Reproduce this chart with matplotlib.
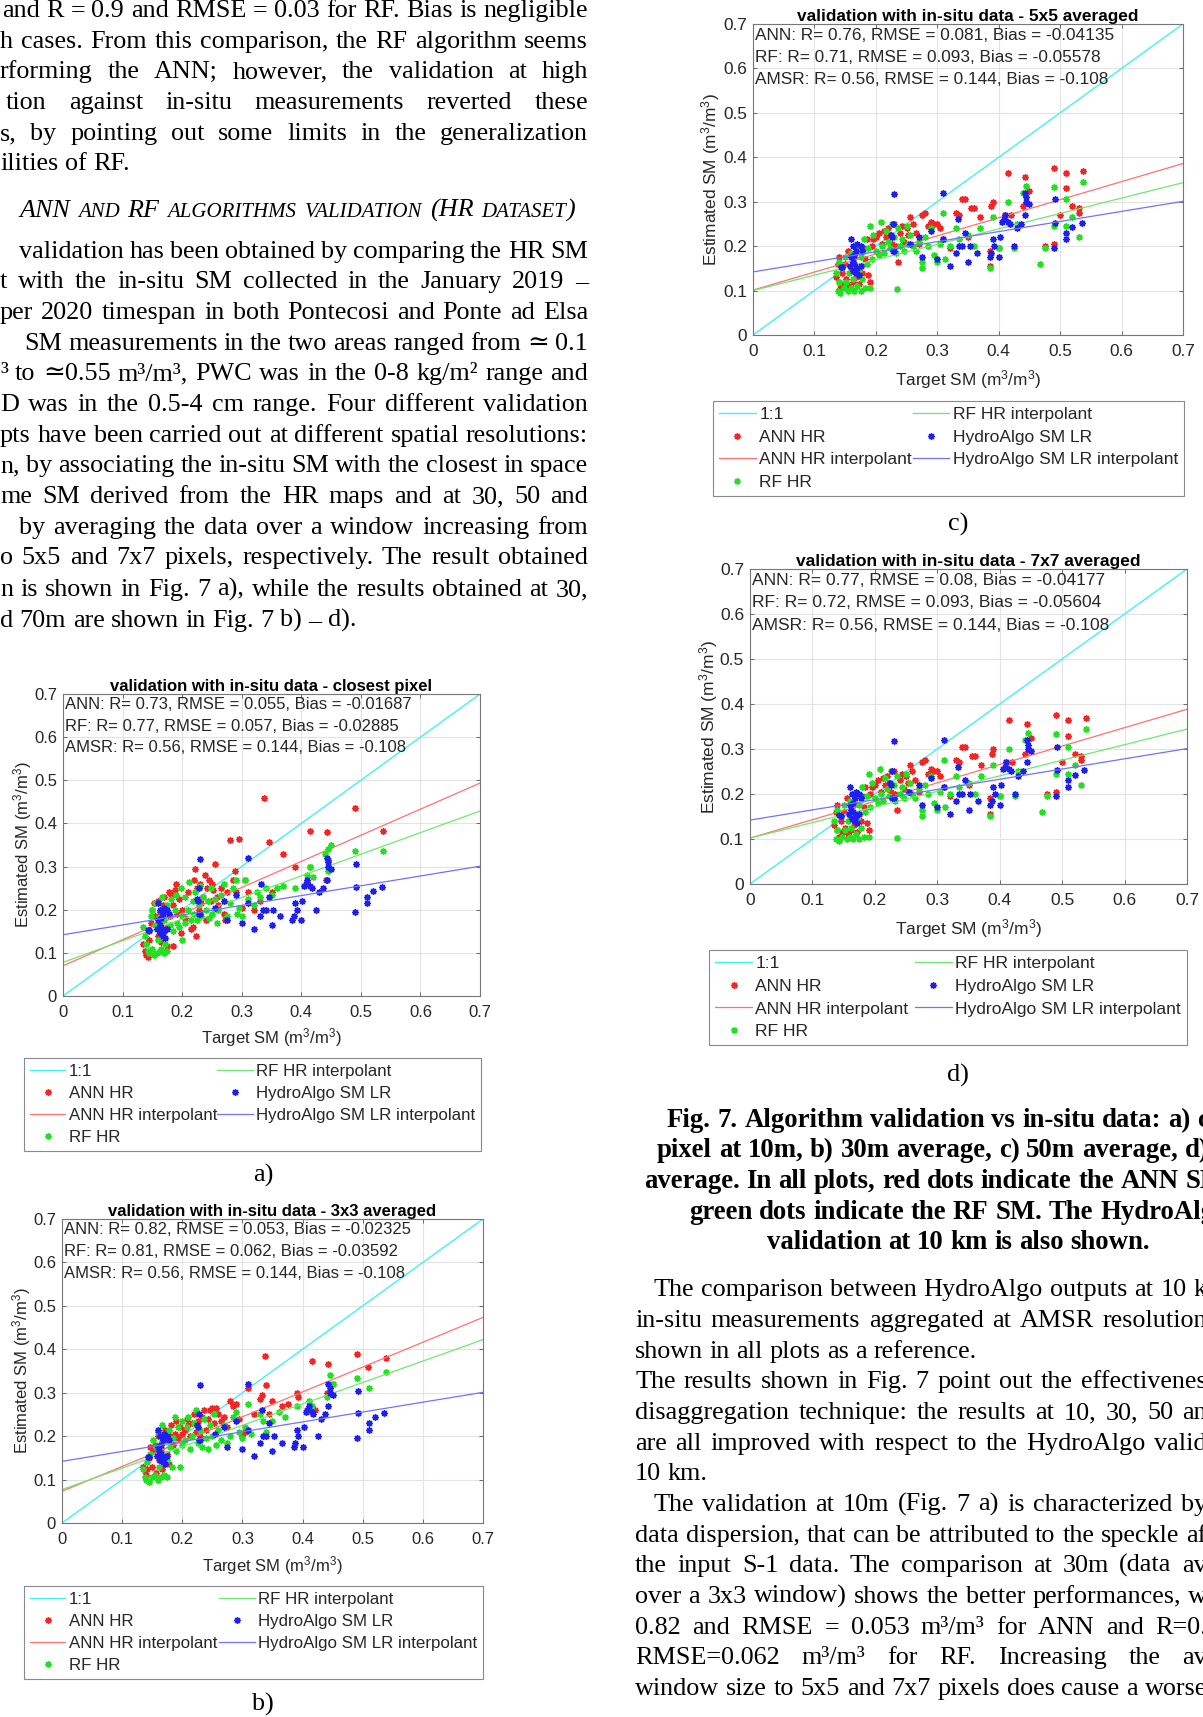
import numpy as np
import matplotlib
matplotlib.use('Agg')
from matplotlib import pyplot as plt

W, H = 1203, 1717

plt.rcParams['font.family'] = ['Liberation Sans', 'DejaVu Sans']
plt.rcParams['mathtext.fontset'] = 'custom'
plt.rcParams['mathtext.rm'] = 'Liberation Sans'
plt.rcParams['mathtext.it'] = 'Liberation Sans:italic'
plt.rcParams['mathtext.bf'] = 'Liberation Sans:bold'

SERIF = ['Liberation Serif', 'DejaVu Serif']

# ---------------------------------------------------------------- data
# HydroAlgo 10 km SM vs in-situ (same in every panel)
hydro_pts = [(0.143, 0.153), (0.145, 0.152), (0.158, 0.155), (0.160, 0.215), (0.162, 0.165),
             (0.163, 0.200), (0.165, 0.180), (0.165, 0.160), (0.168, 0.140), (0.170, 0.150),
             (0.172, 0.135), (0.175, 0.200), (0.178, 0.190), (0.160, 0.175), (0.163, 0.145),
             (0.170, 0.205), (0.175, 0.155), (0.168, 0.190), (0.225, 0.225), (0.226, 0.220),
             (0.228, 0.250), (0.228, 0.190), (0.230, 0.317), (0.230, 0.190), (0.255, 0.205),
             (0.270, 0.220), (0.275, 0.175), (0.290, 0.235), (0.300, 0.170), (0.310, 0.320),
             (0.310, 0.215), (0.320, 0.155), (0.330, 0.185), (0.333, 0.260), (0.335, 0.200),
             (0.340, 0.200), (0.345, 0.230), (0.350, 0.165), (0.353, 0.200), (0.365, 0.185),
             (0.385, 0.175), (0.388, 0.185), (0.390, 0.215), (0.392, 0.200), (0.400, 0.175),
             (0.402, 0.220), (0.405, 0.255), (0.408, 0.260), (0.410, 0.270), (0.415, 0.255),
             (0.418, 0.250), (0.425, 0.200), (0.430, 0.240), (0.437, 0.250), (0.443, 0.270),
             (0.445, 0.300), (0.445, 0.310), (0.443, 0.320), (0.450, 0.295), (0.490, 0.195),
             (0.492, 0.253), (0.492, 0.305), (0.510, 0.215), (0.510, 0.230), (0.520, 0.243),
             (0.535, 0.253)]

# closest pixel (10 m)
ann_a = [(0.135, 0.12), (0.138, 0.105), (0.14, 0.095), (0.142, 0.09), (0.145, 0.13), (0.145, 0.15),
         (0.148, 0.17), (0.15, 0.2), (0.152, 0.215), (0.155, 0.185), (0.157, 0.16), (0.16, 0.14),
         (0.16, 0.22), (0.162, 0.195), (0.165, 0.125), (0.165, 0.175), (0.168, 0.21), (0.17, 0.23),
         (0.172, 0.2), (0.175, 0.115), (0.175, 0.16), (0.178, 0.24), (0.18, 0.185), (0.182, 0.235),
         (0.185, 0.115), (0.185, 0.21), (0.188, 0.245), (0.19, 0.26), (0.192, 0.19), (0.195, 0.225),
         (0.198, 0.145), (0.2, 0.2), (0.205, 0.18), (0.21, 0.24), (0.215, 0.155), (0.218, 0.16),
         (0.22, 0.27), (0.222, 0.295), (0.223, 0.14), (0.225, 0.25), (0.228, 0.2), (0.23, 0.26),
         (0.232, 0.215), (0.235, 0.23), (0.238, 0.28), (0.24, 0.175), (0.242, 0.25), (0.245, 0.27),
         (0.248, 0.22), (0.25, 0.26), (0.252, 0.245), (0.255, 0.305), (0.258, 0.23), (0.26, 0.21),
         (0.265, 0.25), (0.27, 0.19), (0.272, 0.175), (0.275, 0.24), (0.28, 0.362), (0.285, 0.27),
         (0.288, 0.29), (0.29, 0.24), (0.295, 0.365), (0.3, 0.205), (0.305, 0.27), (0.31, 0.24),
         (0.32, 0.2), (0.33, 0.22), (0.337, 0.458), (0.345, 0.358), (0.35, 0.24), (0.37, 0.33),
         (0.39, 0.3), (0.41, 0.265), (0.415, 0.3), (0.415, 0.383), (0.443, 0.38), (0.442, 0.27),
         (0.445, 0.315), (0.49, 0.436), (0.538, 0.383)]
rf_a = [(0.135, 0.16), (0.138, 0.14), (0.14, 0.12), (0.142, 0.105), (0.145, 0.1), (0.148, 0.185),
        (0.15, 0.11), (0.15, 0.2), (0.152, 0.095), (0.155, 0.165), (0.155, 0.215), (0.158, 0.1),
        (0.16, 0.13), (0.16, 0.18), (0.162, 0.105), (0.165, 0.11), (0.165, 0.2), (0.167, 0.23),
        (0.168, 0.155), (0.17, 0.1), (0.17, 0.175), (0.172, 0.12), (0.175, 0.105), (0.175, 0.21),
        (0.178, 0.19), (0.18, 0.165), (0.182, 0.225), (0.185, 0.15), (0.188, 0.2), (0.19, 0.235),
        (0.192, 0.17), (0.195, 0.16), (0.198, 0.25), (0.2, 0.13), (0.2, 0.185), (0.205, 0.17),
        (0.205, 0.23), (0.21, 0.2), (0.212, 0.265), (0.215, 0.175), (0.218, 0.22), (0.22, 0.19),
        (0.222, 0.24), (0.225, 0.175), (0.228, 0.21), (0.23, 0.255), (0.232, 0.185), (0.235, 0.23),
        (0.24, 0.2), (0.243, 0.22), (0.245, 0.18), (0.248, 0.25), (0.25, 0.19), (0.255, 0.225),
        (0.258, 0.17), (0.26, 0.2), (0.265, 0.235), (0.27, 0.26), (0.275, 0.185), (0.28, 0.215),
        (0.285, 0.25), (0.29, 0.27), (0.292, 0.19), (0.295, 0.205), (0.3, 0.185), (0.305, 0.27),
        (0.31, 0.225), (0.32, 0.21), (0.325, 0.24), (0.33, 0.23), (0.34, 0.25), (0.35, 0.235),
        (0.36, 0.25), (0.37, 0.255), (0.39, 0.25), (0.41, 0.28), (0.415, 0.3), (0.42, 0.275),
        (0.44, 0.33), (0.445, 0.34), (0.45, 0.35), (0.445, 0.29), (0.49, 0.335), (0.538, 0.335)]

# 3x3 average (30 m)
ann_b = [(0.135, 0.13), (0.138, 0.12), (0.14, 0.11), (0.142, 0.125), (0.145, 0.15), (0.147, 0.175),
         (0.15, 0.13), (0.152, 0.165), (0.155, 0.18), (0.157, 0.115), (0.16, 0.2), (0.162, 0.145),
         (0.165, 0.17), (0.167, 0.125), (0.17, 0.19), (0.172, 0.215), (0.175, 0.16), (0.178, 0.135),
         (0.18, 0.2), (0.182, 0.225), (0.185, 0.18), (0.188, 0.205), (0.19, 0.235), (0.193, 0.195),
         (0.196, 0.22), (0.2, 0.205), (0.205, 0.215), (0.208, 0.24), (0.21, 0.225), (0.213, 0.2),
         (0.216, 0.23), (0.22, 0.25), (0.223, 0.21), (0.226, 0.235), (0.23, 0.2), (0.233, 0.245),
         (0.236, 0.26), (0.24, 0.215), (0.243, 0.24), (0.246, 0.26), (0.25, 0.265), (0.253, 0.23),
         (0.256, 0.265), (0.26, 0.25), (0.265, 0.235), (0.27, 0.245), (0.275, 0.22), (0.28, 0.28),
         (0.285, 0.27), (0.29, 0.275), (0.295, 0.24), (0.3, 0.2), (0.305, 0.21), (0.31, 0.31),
         (0.32, 0.25), (0.33, 0.285), (0.332, 0.295), (0.338, 0.385), (0.34, 0.318), (0.345, 0.25),
         (0.35, 0.28), (0.365, 0.27), (0.375, 0.275), (0.39, 0.3), (0.392, 0.29), (0.41, 0.265),
         (0.415, 0.372), (0.42, 0.26), (0.44, 0.3), (0.443, 0.365), (0.45, 0.32), (0.49, 0.388),
         (0.508, 0.36), (0.538, 0.38)]
rf_b = [(0.135, 0.125), (0.138, 0.105), (0.14, 0.1), (0.142, 0.14), (0.145, 0.095), (0.147, 0.16),
        (0.15, 0.105), (0.152, 0.19), (0.155, 0.11), (0.157, 0.175), (0.16, 0.1), (0.16, 0.21),
        (0.162, 0.13), (0.165, 0.105), (0.165, 0.185), (0.167, 0.225), (0.17, 0.11), (0.17, 0.16),
        (0.172, 0.2), (0.175, 0.105), (0.175, 0.145), (0.178, 0.215), (0.18, 0.175), (0.183, 0.13),
        (0.185, 0.195), (0.188, 0.245), (0.19, 0.165), (0.193, 0.22), (0.196, 0.13), (0.2, 0.18),
        (0.2, 0.235), (0.205, 0.19), (0.208, 0.22), (0.21, 0.245), (0.213, 0.17), (0.216, 0.2),
        (0.22, 0.23), (0.223, 0.26), (0.226, 0.185), (0.23, 0.215), (0.233, 0.175), (0.236, 0.24),
        (0.24, 0.195), (0.243, 0.17), (0.246, 0.225), (0.25, 0.2), (0.253, 0.25), (0.256, 0.18),
        (0.26, 0.215), (0.265, 0.19), (0.27, 0.225), (0.275, 0.185), (0.28, 0.2), (0.285, 0.245),
        (0.29, 0.255), (0.295, 0.21), (0.3, 0.195), (0.305, 0.22), (0.31, 0.275), (0.315, 0.205),
        (0.33, 0.25), (0.335, 0.235), (0.34, 0.21), (0.35, 0.235), (0.36, 0.255), (0.37, 0.245),
        (0.39, 0.27), (0.41, 0.28), (0.415, 0.27), (0.44, 0.29), (0.445, 0.34), (0.45, 0.32),
        (0.49, 0.335), (0.51, 0.31), (0.538, 0.348)]

# 5x5 / 7x7 average (50 m / 70 m)
ann_c = [(0.135, 0.13), (0.138, 0.16), (0.14, 0.12), (0.14, 0.175), (0.142, 0.105), (0.145, 0.14),
         (0.148, 0.115), (0.15, 0.16), (0.152, 0.125), (0.155, 0.19), (0.157, 0.11), (0.16, 0.145),
         (0.162, 0.12), (0.165, 0.175), (0.167, 0.13), (0.17, 0.2), (0.172, 0.115), (0.175, 0.155),
         (0.178, 0.14), (0.18, 0.195), (0.183, 0.17), (0.185, 0.215), (0.188, 0.135), (0.19, 0.12),
         (0.193, 0.2), (0.196, 0.215), (0.2, 0.22), (0.205, 0.23), (0.21, 0.205), (0.213, 0.235),
         (0.216, 0.22), (0.22, 0.24), (0.223, 0.225), (0.226, 0.205), (0.23, 0.25), (0.233, 0.2),
         (0.236, 0.165), (0.24, 0.23), (0.243, 0.245), (0.246, 0.21), (0.25, 0.24), (0.253, 0.225),
         (0.256, 0.265), (0.26, 0.25), (0.265, 0.23), (0.27, 0.205), (0.275, 0.27), (0.28, 0.275),
         (0.285, 0.245), (0.29, 0.255), (0.295, 0.25), (0.3, 0.25), (0.305, 0.24), (0.31, 0.215),
         (0.32, 0.195), (0.33, 0.275), (0.335, 0.27), (0.34, 0.305), (0.345, 0.305), (0.35, 0.22),
         (0.355, 0.285), (0.36, 0.285), (0.37, 0.265), (0.385, 0.155), (0.385, 0.19), (0.387, 0.29),
         (0.39, 0.3), (0.4, 0.195), (0.41, 0.27), (0.415, 0.365), (0.42, 0.27), (0.44, 0.29),
         (0.443, 0.355), (0.45, 0.325), (0.475, 0.2), (0.49, 0.205), (0.49, 0.375), (0.5, 0.27),
         (0.51, 0.33), (0.51, 0.365), (0.52, 0.29), (0.53, 0.275), (0.53, 0.285), (0.538, 0.37)]
rf_c = [(0.135, 0.14), (0.138, 0.1), (0.14, 0.12), (0.14, 0.165), (0.142, 0.095), (0.145, 0.15),
        (0.148, 0.105), (0.15, 0.175), (0.152, 0.12), (0.155, 0.1), (0.157, 0.14), (0.16, 0.185),
        (0.16, 0.105), (0.162, 0.125), (0.165, 0.1), (0.165, 0.16), (0.167, 0.2), (0.17, 0.11),
        (0.172, 0.145), (0.175, 0.1), (0.175, 0.175), (0.178, 0.125), (0.18, 0.215), (0.183, 0.105),
        (0.185, 0.16), (0.188, 0.195), (0.19, 0.105), (0.19, 0.245), (0.193, 0.17), (0.196, 0.225),
        (0.2, 0.19), (0.205, 0.18), (0.208, 0.255), (0.21, 0.2), (0.213, 0.185), (0.216, 0.235),
        (0.22, 0.21), (0.223, 0.195), (0.226, 0.25), (0.23, 0.22), (0.233, 0.185), (0.235, 0.103),
        (0.236, 0.24), (0.24, 0.2), (0.243, 0.215), (0.246, 0.19), (0.25, 0.245), (0.253, 0.205),
        (0.256, 0.225), (0.26, 0.2), (0.265, 0.19), (0.27, 0.21), (0.275, 0.15), (0.275, 0.165),
        (0.28, 0.22), (0.285, 0.2), (0.29, 0.24), (0.295, 0.18), (0.3, 0.165), (0.305, 0.205),
        (0.31, 0.275), (0.312, 0.17), (0.32, 0.2), (0.33, 0.24), (0.335, 0.215), (0.35, 0.225),
        (0.36, 0.2), (0.37, 0.24), (0.385, 0.15), (0.39, 0.265), (0.4, 0.195), (0.41, 0.26),
        (0.415, 0.3), (0.425, 0.195), (0.43, 0.25), (0.44, 0.32), (0.445, 0.335), (0.468, 0.16),
        (0.475, 0.195), (0.49, 0.245), (0.49, 0.333), (0.51, 0.245), (0.51, 0.305), (0.52, 0.265),
        (0.53, 0.22), (0.538, 0.345)]
ann_d = ann_c
rf_d = rf_c

# linear fits (slope, intercept)
hydro_fit = (0.227, 0.142)
ann_fits = [(0.605, 0.070), (0.572, 0.073), (0.407, 0.101), (0.409, 0.102)]
rf_fits = [(0.501, 0.078), (0.493, 0.077), (0.347, 0.100), (0.346, 0.102)]

titles = ['validation with in-situ data - closest pixel',
          'validation with in-situ data - 3x3 averaged',
          'validation with in-situ data - 5x5 averaged',
          'validation with in-situ data - 7x7 averaged']
ann_stats = ['ANN: R= 0.73, RMSE = 0.055, Bias = -0.01687',
             'ANN: R= 0.82, RMSE = 0.053, Bias = -0.02325',
             'ANN: R= 0.76, RMSE = 0.081, Bias = -0.04135',
             'ANN: R= 0.77, RMSE = 0.08, Bias = -0.04177']
rf_stats = ['RF: R= 0.77, RMSE = 0.057, Bias = -0.02885',
            'RF: R= 0.81, RMSE = 0.062, Bias = -0.03592',
            'RF: R= 0.71, RMSE = 0.093, Bias = -0.05578',
            'RF: R= 0.72, RMSE = 0.093, Bias = -0.05604']
amsr_stats = 'AMSR: R= 0.56, RMSE = 0.144, Bias = -0.108'
legend_labels = ['1:1', 'ANN HR', 'ANN HR interpolant', 'RF HR', 'RF HR interpolant',
                 'HydroAlgo SM LR', 'HydroAlgo SM LR interpolant']
ticks = [0, 0.1, 0.2, 0.3, 0.4, 0.5, 0.6, 0.7]
tick_labels = ['0', '0.1', '0.2', '0.3', '0.4', '0.5', '0.6', '0.7']

# ---------------------------------------------------------------- page text
top_lines = ['and R = 0.9 and RMSE = 0.03 for RF. Bias is negligible',
             'h cases. From this comparison, the RF algorithm seems',
             'rforming the ANN; however, the validation at high',
             'tion against in-situ measurements reverted these',
             's, by pointing out some limits in the generalization',
             'ilities of RF.']
para_lines = ['validation has been obtained by comparing the HR SM',
              't with the in-situ SM collected in the January 2019 –',
              'per 2020 timespan in both Pontecosi and Ponte ad Elsa',
              'SM measurements in the two areas ranged from ≃ 0.1',
              '³ to ≃0.55 m³/m³, PWC was in the 0-8 kg/m² range and',
              'D was in the 0.5-4 cm range. Four different validation',
              'pts have been carried out at different spatial resolutions:',
              'n, by associating the in-situ SM with the closest in space',
              'me SM derived from the HR maps and at 30, 50 and',
              'by averaging the data over a window increasing from',
              'o 5x5 and 7x7 pixels, respectively. The result obtained',
              'n is shown in Fig. 7 a), while the results obtained at 30,',
              'd 70m are shown in Fig. 7 b) – d).']
caption_lines = ['Fig. 7. Algorithm validation vs in-situ data: a) closest',
                 'pixel at 10m, b) 30m average, c) 50m average, d) 70m',
                 'average. In all plots, red dots indicate the ANN SM,',
                 'green dots indicate the RF SM. The HydroAlgo',
                 'validation at 10 km is also shown.']
right_lines = ['The comparison between HydroAlgo outputs at 10 k',
               'in-situ measurements aggregated at AMSR resolution',
               'shown in all plots as a reference.',
               'The results shown in Fig. 7 point out the effectivenes',
               'disaggregation technique: the results at 10, 30, 50 an',
               'are all improved with respect to the HydroAlgo valid',
               '10 km.',
               'The validation at 10m (Fig. 7 a) is characterized by',
               'data dispersion, that can be attributed to the speckle af',
               'the input S-1 data. The comparison at 30m (data av',
               'over a 3x3 window) shows the better performances, w',
               '0.82 and RMSE = 0.053 m³/m³ for ANN and R=0.',
               'RMSE=0.062 m³/m³ for RF. Increasing the av',
               'window size to 5x5 and 7x7 pixels does cause a worse']

fig = plt.figure(figsize=(W / 100, H / 100), dpi=100)
fig.patch.set_facecolor('white')
renderer = fig.canvas.get_renderer()

BODY = 18.8
CAPTION = 19.3


def text_line(words, x0, y, x1=None, size=BODY, **kw):
    # words: list of str, or of [(str, size), ...] for mixed-size words
    groups = []
    for w in words:
        segs = [(w, size)] if isinstance(w, str) else w
        groups.append([fig.text(0, 1 - y / H, s, fontsize=sz, family=SERIF,
                                va='baseline', **kw) for s, sz in segs])
    widths = [[a.get_window_extent(renderer).width for a in g] for g in groups]
    total = sum(sum(ws) for ws in widths)
    space = 0.25 * size * 100 / 72
    gap = space
    if x1 is not None and len(groups) > 1:
        gap = max((x1 - x0 - total) / (len(groups) - 1), 0.7 * space)
    x = x0
    for g, ws in zip(groups, widths):
        for a, w in zip(g, ws):
            a.set_x(x / W)
            x += w
        x += gap


# left column, top paragraph
top_y = [17, 48, 78, 109, 140, 170]
top_x = [2, 0, 0, 6, 0, 0]
for i, line in enumerate(top_lines):
    text_line(line.split(), top_x[i], top_y[i], None if i == len(top_lines) - 1 else 588)

# section heading in italic small caps
big, small = BODY, 15.0
heading = [[('ANN', big)], [('AND', small)], [('RF', big)], [('ALGORITHMS', small)],
           [('VALIDATION', small)], [('(HR', big)], [('DATASET', small), (')', big)]]
text_line(heading, 19, 217, 575, fontstyle='italic')

para_y = [258, 288, 319, 350, 380, 411, 442, 472, 503, 534, 564, 596, 627]
para_x = [19, 0, 0, 24, 0, 0, 0, 0, 0, 19, 0, 0, 0]
for i, line in enumerate(para_lines):
    text_line(line.split(), para_x[i], para_y[i], None if i == len(para_lines) - 1 else 588)

# right column caption and body
cap_y = [1127, 1157, 1188, 1219, 1249]
cap_x = [667, 657, 644, 689, 767]
for i, line in enumerate(caption_lines):
    text_line(line.split(), cap_x[i], cap_y[i], size=CAPTION, fontweight='bold')

right_y = [1296, 1327, 1358, 1388, 1419, 1450, 1480, 1511, 1542, 1572, 1603, 1634, 1664, 1695]
right_x = [653, 635, 635, 635, 635, 635, 635, 653, 635, 635, 635, 635, 635, 635]
ragged = {2, 6}
for i, line in enumerate(right_lines):
    text_line(line.split(), right_x[i], right_y[i], None if i in ragged else 1207)

# panel letters
for lab, (x, y) in zip(['a)', 'b)', 'c)', 'd)'], [(263, 1175), (263, 1704), (958, 524), (958, 1075)]):
    fig.text(x / W, 1 - y / H, lab, fontsize=BODY, family=SERIF, ha='center', va='center')

# ---------------------------------------------------------------- scatter panels
axes_px = [(63, 694, 480, 996), (62, 1219, 483, 1523), (753, 24, 1183, 335), (750, 569, 1187, 884)]
legend_px = [(24, 1058, 481, 1150), (24, 1586, 483, 1678), (713, 401, 1184, 494), (709, 950, 1187, 1043)]
ylabel_x = [23, 22, 711, 709]
xlabel_y = [1038, 1566, 380, 929]
font_scale = [1.0, 1.0, 1.035, 1.04]
ann_sets = [ann_a, ann_b, ann_c, ann_d]
rf_sets = [rf_a, rf_b, rf_c, rf_d]

TXT = '#262626'
star = (8, 2, 0)

for k in range(4):
    l, t, r, b = axes_px[k]
    fs = 12.0 * font_scale[k]
    ax = fig.add_axes([l / W, 1 - b / H, (r - l) / W, (b - t) / H])
    ax.set_xlim(0, 0.7)
    ax.set_ylim(0, 0.7)
    lim = np.array(ax.get_xlim())

    ann = np.array(ann_sets[k])
    rf = np.array(rf_sets[k])
    hyd = np.array(hydro_pts)

    h11, = ax.plot(lim, lim, color='#45f0f0', lw=1.0)
    h_ann, = ax.plot(ann[:, 0], ann[:, 1], ls='none', marker=star, ms=4.8, mew=1.0, color='#f52525')
    h_annl, = ax.plot(lim, ann_fits[k][0] * lim + ann_fits[k][1], color='#ff7272', lw=0.9)
    h_rf, = ax.plot(rf[:, 0], rf[:, 1], ls='none', marker=star, ms=4.8, mew=1.0, color='#22e022')
    h_rfl, = ax.plot(lim, rf_fits[k][0] * lim + rf_fits[k][1], color='#72e672', lw=0.9)
    h_hyd, = ax.plot(hyd[:, 0], hyd[:, 1], ls='none', marker=star, ms=4.8, mew=1.0, color='#1f1ff0')
    h_hydl, = ax.plot(lim, hydro_fit[0] * lim + hydro_fit[1], color='#7272ff', lw=0.9)

    ax.set_xticks(ticks)
    ax.set_yticks(ticks)
    ax.set_xticklabels(tick_labels)
    ax.set_yticklabels(tick_labels)
    ax.grid(True, color='#e3e3e3', lw=0.8)
    ax.set_axisbelow(True)
    ax.tick_params(direction='in', length=3, width=0.6, colors='#555555', labelcolor=TXT,
                   labelsize=fs, top=True, right=True)
    ax.tick_params(axis='x', pad=6.5)
    ax.tick_params(axis='y', pad=4.3)
    for s in ax.spines.values():
        s.set_color('#777777')
        s.set_linewidth(0.8)

    ax.set_title(titles[k], fontsize=fs, fontweight='bold', color='black', pad=2)
    ax.set_xlabel('Target SM (m$^3$/m$^3$)', fontsize=fs, color=TXT)
    ax.set_ylabel('Estimated SM (m$^3$/m$^3$)', fontsize=fs, color=TXT)
    ax.xaxis.set_label_coords(0.5, -(xlabel_y[k] - b) / (b - t), transform=ax.transAxes)
    ax.yaxis.set_label_coords(-(l - ylabel_x[k]) / (r - l), 0.5, transform=ax.transAxes)
    ax.xaxis.label.set_va('center')
    ax.yaxis.label.set_va('center')

    for j, s in enumerate([ann_stats[k], rf_stats[k], amsr_stats]):
        ax.text(0.004, 0.675 - 0.05 * j, s, fontsize=fs, color=TXT, va='center', ha='left')

    lx0, ly0, lx1, ly1 = legend_px[k]
    leg = ax.legend([h11, h_ann, h_annl, h_rf, h_rfl, h_hyd, h_hydl], legend_labels,
                    ncol=2, mode='expand', loc='upper left',
                    bbox_to_anchor=(lx0 / W, 1 - ly1 / H, (lx1 - lx0) / W, (ly1 - ly0) / H),
                    bbox_transform=fig.transFigure, fancybox=False, framealpha=1,
                    edgecolor='#8a8a8a', fontsize=fs * 1.01, handlelength=2.1,
                    handletextpad=0.2, labelspacing=0.42, borderpad=0.35, borderaxespad=0,
                    columnspacing=0.4, numpoints=1)
    leg.get_frame().set_linewidth(0.8)
    for txt in leg.get_texts():
        txt.set_color(TXT)

fig.savefig('out.png', dpi=100, facecolor='white')
